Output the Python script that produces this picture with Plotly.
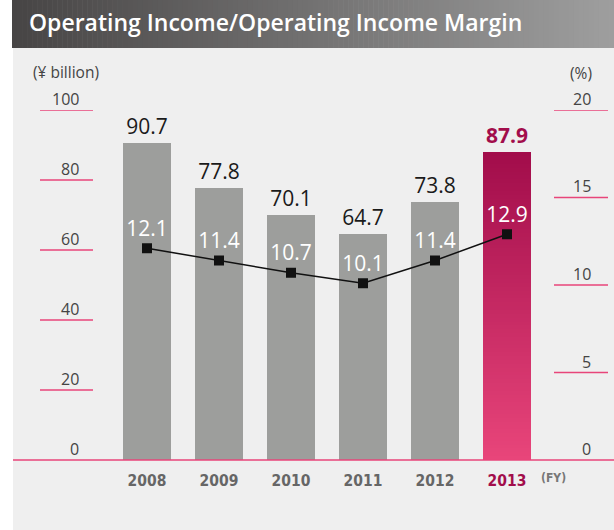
import plotly.graph_objects as go

years = ["2008", "2009", "2010", "2011", "2012", "2013"]
operating_income = [90.7, 77.8, 70.1, 64.7, 73.8, 87.9]
income_margin = [12.1, 11.4, 10.7, 10.1, 11.4, 12.9]
left_ticks = [0, 20, 40, 60, 80, 100]
right_ticks = [0, 5, 10, 15, 20]

W, H = 614, 530
GRAY_BAR = "#9d9e9c"
HILITE = "#a20d4b"
PINK = "#e8457a"
BG = "#efefef"
COND = "DejaVu Sans Condensed, Liberation Sans Narrow, Roboto, sans-serif"
Y_TOP_PX, Y_BASE_PX = 110, 460


def px_x(p):
    return p / W


def px_y(p):
    return 1 - p / H


def lerp(c1, c2, t):
    a = [int(c1[i:i + 2], 16) for i in (1, 3, 5)]
    b = [int(c2[i:i + 2], 16) for i in (1, 3, 5)]
    return "#" + "".join(f"{round(a[k] + (b[k] - a[k]) * t):02x}" for k in range(3))


fig = go.Figure()

bar_colors = [GRAY_BAR] * (len(years) - 1) + [HILITE]
label_colors = ["#1a1a1a"] * (len(years) - 1) + [HILITE]
fig.add_trace(go.Bar(
    x=years, y=operating_income, width=0.653,
    marker=dict(color=bar_colors, line=dict(width=0)),
    text=[f"{v:.1f}" if i < len(years) - 1 else f"<b>{v:.1f}</b>" for i, v in enumerate(operating_income)],
    textposition="outside", cliponaxis=False,
    textfont=dict(family="Open Sans", size=21, color=label_colors),
    hoverinfo="skip", showlegend=False,
))

n = 80
hv = operating_income[-1]
seg = hv / n
fig.add_trace(go.Bar(
    x=[years[-1]] * n, y=[seg * 1.02] * n, base=[seg * i for i in range(n)],
    width=0.653,
    marker=dict(color=[lerp(PINK, HILITE, i / (n - 1)) for i in range(n)], line=dict(width=0)),
    hoverinfo="skip", showlegend=False,
))

fig.add_trace(go.Scatter(
    x=years, y=income_margin, yaxis="y2", mode="lines+markers+text",
    line=dict(color="#111111", width=1.5),
    marker=dict(symbol="square", size=10, color="#111111"),
    text=[f"{v:.1f}" for v in income_margin], textposition="top center",
    textfont=dict(family="Open Sans", size=21, color="white"),
    cliponaxis=False, hoverinfo="skip", showlegend=False,
))

shapes = []
shapes.append(dict(type="rect", xref="paper", yref="paper", x0=px_x(13), x1=1, y0=0, y1=1,
                   fillcolor=BG, line=dict(width=0), layer="below"))
steps = 120
x_start, x_end = 12, 614
for i in range(steps):
    xa = x_start + (x_end - x_start) * i / steps
    xb = x_start + (x_end - x_start) * (i + 1) / steps + 0.6
    shapes.append(dict(type="rect", xref="paper", yref="paper", x0=px_x(xa), x1=px_x(min(xb, W)),
                       y0=px_y(48), y1=1, fillcolor=lerp("#474545", "#9e9e9e", i / (steps - 1)),
                       line=dict(width=0), layer="below"))

annotations = []
for v in left_ticks:
    if v != 0:
        shapes.append(dict(type="line", xref="paper", yref="y", x0=px_x(40), x1=px_x(93), y0=v, y1=v,
                           line=dict(color=PINK, width=1.5)))
    annotations.append(dict(xref="paper", yref="y", x=px_x(81), y=v, text=str(v), showarrow=False,
                            xanchor="right", yanchor="middle", yshift=11,
                            font=dict(family="Open Sans", size=16, color="#444444")))
for v in right_ticks:
    if v != 0:
        shapes.append(dict(type="line", xref="paper", yref="y2", x0=px_x(554), x1=px_x(608), y0=v, y1=v,
                           line=dict(color=PINK, width=1.5)))
    annotations.append(dict(xref="paper", yref="y2", x=px_x(593), y=v, text=str(v), showarrow=False,
                            xanchor="right", yanchor="middle", yshift=11,
                            font=dict(family="Open Sans", size=16, color="#444444")))
# baseline (axis zero) in paper coordinates so it isn't clipped
shapes.append(dict(type="line", xref="paper", yref="paper", x0=px_x(13), x1=1,
                   y0=px_y(Y_BASE_PX), y1=px_y(Y_BASE_PX),
                   line=dict(color=PINK, width=1.5), layer="above"))

annotations += [
    dict(xref="paper", yref="paper", x=px_x(27), y=px_y(22), text="Operating Income/Operating Income Margin",
         showarrow=False, xanchor="left", yanchor="middle",
         font=dict(family="Open Sans", size=23, color="white", weight=600)),
    dict(xref="paper", yref="paper", x=px_x(31), y=px_y(72), text="(¥ billion)", showarrow=False,
         xanchor="left", yanchor="middle", font=dict(family="Open Sans", size=15.5, color="#444444")),
    dict(xref="paper", yref="paper", x=px_x(594), y=px_y(73), text="(%)", showarrow=False,
         xanchor="right", yanchor="middle", font=dict(family="Open Sans", size=15.5, color="#444444")),
    dict(xref="paper", yref="paper", x=px_x(539), y=px_y(478), text="(FY)", showarrow=False,
         xanchor="left", yanchor="middle",
         font=dict(family=COND, size=12, color="#777777", weight="bold")),
]

tick_text = [y if i < len(years) - 1 else f"<span style='color:{HILITE}'>{y}</span>" for i, y in enumerate(years)]

fig.update_layout(
    width=W, height=H, margin=dict(l=0, r=0, t=0, b=0),
    paper_bgcolor="white", plot_bgcolor="rgba(0,0,0,0)",
    barmode="overlay", bargap=0,
    xaxis=dict(domain=[0, 1], range=[-147 / 72, (614 - 147) / 72], showgrid=False, zeroline=False,
               showline=False, ticks="", tickmode="array", tickvals=years, ticktext=tick_text,
               tickfont=dict(family=COND, size=15.5, color="#666666", weight="bold"), ticklabelstandoff=9),
    yaxis=dict(domain=[px_y(Y_BASE_PX), px_y(Y_TOP_PX)], range=[0, 100], showgrid=False, zeroline=False,
               showticklabels=False, showline=False),
    yaxis2=dict(overlaying="y", range=[0, 20], showgrid=False, zeroline=False,
                showticklabels=False, showline=False),
    shapes=shapes, annotations=annotations,
)

fig.write_html("out.html", config={"displayModeBar": False},
               post_script="document.body.style.margin='0';document.body.style.padding='0';")
